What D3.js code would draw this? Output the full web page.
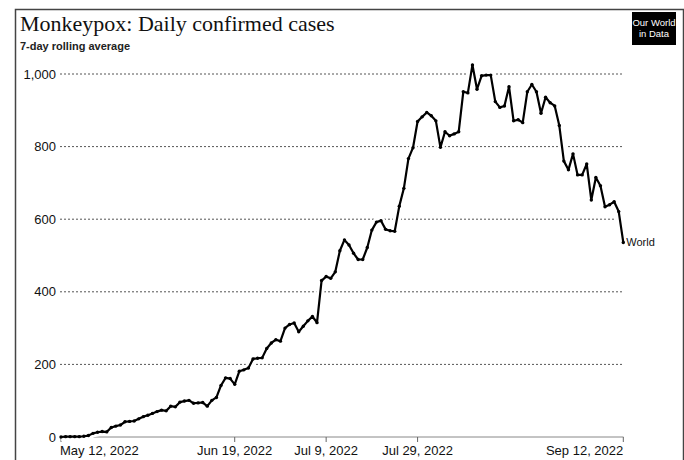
<!DOCTYPE html>
<html>
<head>
<meta charset="utf-8">
<script src="https://cdn.jsdelivr.net/npm/d3@7"></script>
<style>
  html, body { margin: 0; padding: 0; background: #fff; }
  svg { display: block; }
</style>
</head>
<body>
<svg id="chart" width="684" height="460"></svg>
<script>
// ---- Data ----
const startDate = "2022-05-12";
const endDate = "2022-09-12";
const worldCases = [
  0, 1, 1, 1, 1, 2, 4, 10, 13, 15,
  14, 26, 30, 33, 42, 43, 44, 50, 56, 60,
  65, 70, 74, 72, 85, 83, 96, 99, 101, 93,
  94, 95, 85, 101, 109, 142, 163, 161, 145, 181,
  185, 190, 215, 217, 218, 244, 259, 268, 264, 300,
  310, 314, 290, 305, 320, 332, 315, 431, 442, 437,
  455, 513, 543, 529, 506, 489, 489, 522, 570, 592,
  596, 572, 568, 567, 636, 685, 767, 797, 869, 882,
  894, 885, 871, 798, 841, 830, 835, 841, 951, 948,
  1025, 958, 995, 997, 997, 924, 908, 912, 965, 871,
  874, 866, 951, 971, 951, 892, 936, 921, 912, 858,
  760, 736, 780, 722, 722, 752, 653, 715, 692, 634,
  640, 648, 621, 536
];
const yTicks = [0, 200, 400, 600, 800, 1000];
const xTickDates = ["2022-05-12", "2022-06-19", "2022-07-09", "2022-07-29", "2022-09-12"];
const seriesName = "World";
const titleText = "Monkeypox: Daily confirmed cases";
const subtitleText = "7-day rolling average";

// ---- Build ----
const parse = d3.utcParse("%Y-%m-%d");
const fmtTick = d3.utcFormat("%b %-d, %Y");
const start = parse(startDate);
const data = worldCases.map((v, i) => ({ date: d3.utcDay.offset(start, i), value: v }));

const svg = d3.select("#chart");
const x = d3.scaleUtc().domain([start, parse(endDate)]).range([61, 623.3]);
const y = d3.scaleLinear().domain([0, 1000]).range([437, 74]);

// frame
svg.append("rect")
  .attr("x", 15.5).attr("y", 9.5).attr("width", 668).attr("height", 470)
  .attr("fill", "none").attr("stroke", "#444").attr("stroke-width", 1.5);

// title
svg.append("text")
  .attr("x", 20).attr("y", 31)
  .attr("font-family", "'Liberation Serif', 'Times New Roman', serif")
  .attr("font-size", 22).attr("fill", "#111")
  .text(titleText);
svg.append("text")
  .attr("x", 20).attr("y", 50)
  .attr("font-family", "'Liberation Sans', Arial, sans-serif")
  .attr("font-size", 11).attr("font-weight", "bold").attr("fill", "#222")
  .text(subtitleText);

// logo
const logo = svg.append("g").attr("transform", "translate(632,12)");
logo.append("rect").attr("width", 44).attr("height", 33).attr("fill", "#000");
logo.append("text").attr("x", 22).attr("y", 14).attr("text-anchor", "middle")
  .attr("font-family", "'Liberation Sans Narrow', 'Liberation Sans', Arial, sans-serif")
  .attr("font-size", 9.5).attr("fill", "#fff").text("Our World");
logo.append("text").attr("x", 22).attr("y", 25).attr("text-anchor", "middle")
  .attr("font-family", "'Liberation Sans Narrow', 'Liberation Sans', Arial, sans-serif")
  .attr("font-size", 9.5).attr("fill", "#fff").text("in Data");

// gridlines
const gridG = svg.append("g");
gridG.selectAll("line").data(yTicks.filter(d => d > 0)).join("line")
  .attr("x1", 60).attr("x2", 623)
  .attr("y1", d => y(d)).attr("y2", d => y(d))
  .attr("stroke", "#555").attr("stroke-width", 1)
  .attr("stroke-dasharray", "2,2");

// y labels
svg.append("g").selectAll("text").data(yTicks).join("text")
  .attr("x", 56).attr("y", d => y(d) + 4.5)
  .attr("text-anchor", "end")
  .attr("font-family", "'Liberation Sans', Arial, sans-serif")
  .attr("font-size", 13).attr("fill", "#111")
  .text(d => d3.format(",")(d));

// x axis
const xAxisG = svg.append("g").attr("transform", `translate(0,${y(0)})`);
xAxisG.append("line").attr("x1", 60).attr("x2", 623.5)
  .attr("stroke", "#888").attr("stroke-width", 1);
const xt = xTickDates.map(parse);
xAxisG.selectAll("line.tick").data(xt).join("line").attr("class", "tick")
  .attr("x1", d => x(d)).attr("x2", d => x(d)).attr("y1", 0).attr("y2", 5)
  .attr("stroke", "#666").attr("stroke-width", 1);
xAxisG.selectAll("text").data(xt).join("text")
  .attr("x", d => x(d)).attr("y", 18)
  .attr("text-anchor", (d, i) => i === 0 ? "start" : (i === xt.length - 1 ? "end" : "middle"))
  .attr("dx", (d, i) => i === 0 ? -1 : 0)
  .attr("font-family", "'Liberation Sans', Arial, sans-serif")
  .attr("font-size", 13).attr("fill", "#111")
  .text(d => fmtTick(d));

// line with halo
const line = d3.line().x(d => x(d.date)).y(d => y(d.value));
svg.append("path").datum(data).attr("d", line)
  .attr("fill", "none").attr("stroke", "#fff").attr("stroke-width", 8)
  .attr("stroke-linejoin", "round");
svg.append("path").datum(data).attr("d", line)
  .attr("fill", "none").attr("stroke", "#000").attr("stroke-width", 2.2)
  .attr("stroke-linejoin", "round");
svg.append("g").selectAll("circle").data(data).join("circle")
  .attr("cx", d => x(d.date)).attr("cy", d => y(d.value)).attr("r", 1.7)
  .attr("fill", "#000");

// series label
const last = data[data.length - 1];
svg.append("text")
  .attr("x", x(last.date) + 3).attr("y", y(last.value) + 4)
  .attr("font-family", "'Liberation Sans', Arial, sans-serif")
  .attr("font-size", 11).attr("fill", "#111")
  .text(seriesName);
</script>
</body>
</html>
